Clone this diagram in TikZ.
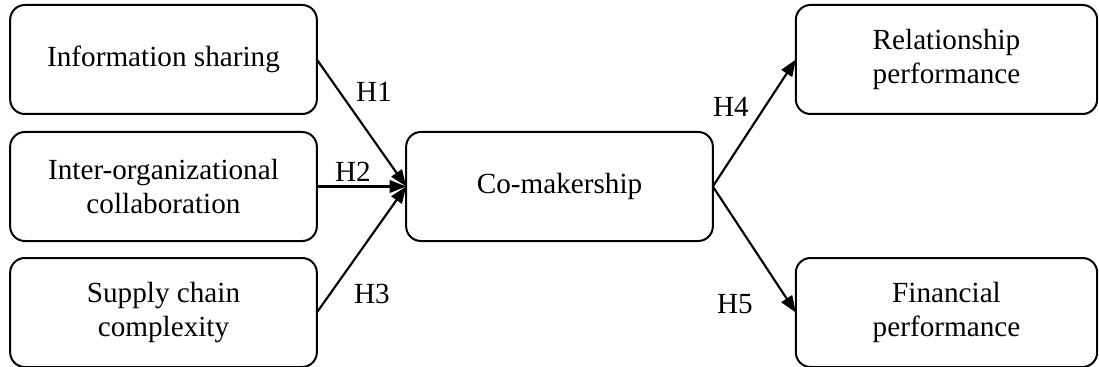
\documentclass[tikz,border=0pt]{standalone}
\usepackage{fontspec}
\setmainfont{Liberation Serif}
\usetikzlibrary{arrows.meta}
\begin{document}
\begin{tikzpicture}[x=0.75pt,y=-0.75pt,
  box/.style={draw,line width=1.5pt,rounded corners=11pt,minimum width=230pt,minimum height=81.75pt,align=center,inner sep=0pt,outer sep=0pt,font=\fontsize{21.9}{25}\selectfont},
  rbox/.style={box,minimum width=226pt},
  lab/.style={font=\fontsize{21.9}{25}\selectfont,inner sep=0pt},
  arr/.style={line width=1.6pt,-{Triangle[length=12.5pt,width=9.5pt]}}]
\useasboundingbox (0,0) rectangle (1099,367);
\node[box] (info) at (163.5,59.5) {Information sharing};
\node[box] (inter) at (163.5,186.5) {Inter-organizational\\collaboration};
\node[box] (supply) at (163.5,312.5) {Supply chain\\complexity};
\node[box] (comak) at (559.5,186.5) {Co-makership};
\node[rbox] (rel) at (946.5,59.5) {Relationship\\performance};
\node[rbox] (fin) at (946.5,312.5) {Financial\\performance};
\draw[arr] (info.east) -- (comak.west);
\draw[arr] (inter.east) -- (comak.west);
\draw[arr] (supply.east) -- (comak.west);
\draw[arr] (comak.east) -- (rel.west);
\draw[arr] (comak.east) -- (fin.west);
\node[lab] (h1) at (374,92) {H1};
\node[lab] (h2) at (353,172) {H2};
\node[lab] (h3) at (372,294) {H3};
\node[lab] (h4) at (731,107) {H4};
\node[lab] (h5) at (735,304) {H5};
\end{tikzpicture}
\end{document}
